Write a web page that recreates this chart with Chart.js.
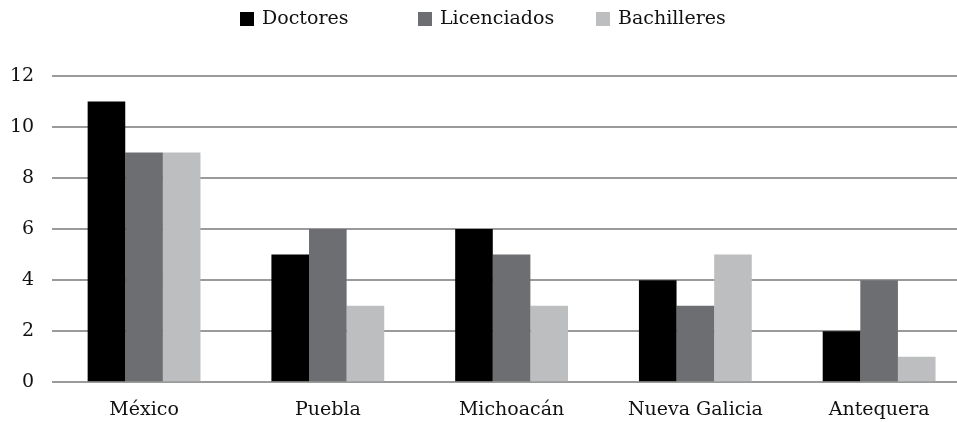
<!DOCTYPE html>
<html>
<head>
<meta charset="utf-8">
<script src="https://cdn.jsdelivr.net/npm/chart.js@4"></script>
<style>
  html, body { margin: 0; padding: 0; background: #fff; }
  #view { width: 957px; height: 422px; overflow: hidden; }
  #wrap { width: 971px; height: 422px; }
</style>
</head>
<body>
<div id="view"><div id="wrap"><canvas id="myChart"></canvas></div></div>
<script>
// data
const regiones = ['México', 'Puebla', 'Michoacán', 'Nueva Galicia', 'Antequera'];
const doctores = [11, 5, 6, 4, 2];
const licenciados = [9, 6, 5, 3, 4];
const bachilleres = [9, 3, 3, 5, 1];
const colores = ['#000000', '#6d6e71', '#bdbec0'];

const fuente = '"DejaVu Serif", "Liberation Serif", serif';
Chart.defaults.font.family = fuente;
Chart.defaults.color = '#111';

// legend with fixed-width slots, like the original
const slotLegend = {
  id: 'slotLegend',
  afterDraw(chart) {
    const ctx = chart.ctx;
    const slot = 178;
    let x = 957 / 2 - 238.5;
    ctx.save();
    ctx.font = '19px ' + fuente;
    ctx.textBaseline = 'middle';
    chart.data.datasets.forEach(ds => {
      ctx.fillStyle = ds.backgroundColor;
      ctx.fillRect(x, 12, 14, 14);
      ctx.fillStyle = '#111';
      ctx.fillText(ds.label, x + 22, 19);
      x += slot;
    });
    ctx.restore();
  }
};

const data = {
  labels: regiones,
  datasets: [
    { label: 'Doctores', data: doctores, backgroundColor: colores[0] },
    { label: 'Licenciados', data: licenciados, backgroundColor: colores[1] },
    { label: 'Bachilleres', data: bachilleres, backgroundColor: colores[2] }
  ]
};

const config = {
  type: 'bar',
  data,
  plugins: [slotLegend],
  options: {
    responsive: true,
    maintainAspectRatio: false,
    animation: false,
    datasets: { bar: { barPercentage: 1, categoryPercentage: 0.614 } },
    layout: { padding: { top: 76, right: 0, left: -8, bottom: -15 } },
    plugins: {
      legend: { display: false },
      tooltip: { enabled: false }
    },
    scales: {
      x: {
        grid: { display: false, drawTicks: false },
        border: { display: false },
        ticks: { font: { size: 19 }, padding: 16, maxRotation: 0 }
      },
      y: {
        min: 0,
        max: 12,
        ticks: { stepSize: 2, font: { size: 19 }, padding: 18 },
        grid: { color: '#9a9a9a', lineWidth: 2, drawTicks: false },
        border: { display: false }
      }
    }
  }
};

const myChart = new Chart(document.getElementById('myChart'), config);
</script>
</body>
</html>
